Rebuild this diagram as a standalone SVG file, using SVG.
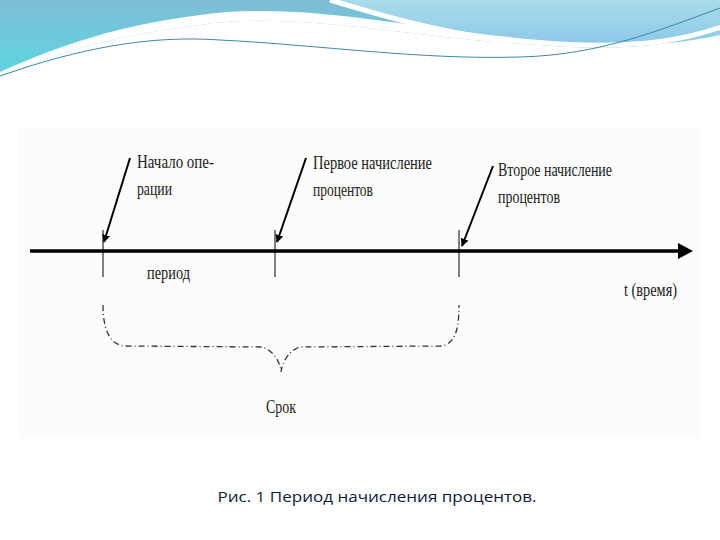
<svg xmlns="http://www.w3.org/2000/svg" width="720" height="540" viewBox="0 0 720 540">
<defs>
<linearGradient id="bg" x1="0" y1="0" x2="0" y2="1"><stop offset="0" stop-color="#7fbdd6"/><stop offset="1" stop-color="#5ad6e0"/></linearGradient>
<linearGradient id="bg2" x1="0" y1="0" x2="0" y2="1"><stop offset="0" stop-color="#a8dcea"/><stop offset="1" stop-color="#8cc8e8"/></linearGradient>
<marker id="ah" viewBox="0 0 10 10" refX="9" refY="5" markerWidth="4" markerHeight="4" orient="auto"><path d="M0,0 L10,5 L0,10 z" fill="#000"/></marker>
<style>
.t{font-family:"Liberation Serif",serif;font-size:19px;fill:#222}
.ptr{stroke:#000;stroke-width:2;fill:none;marker-end:url(#ah)}
.tick{stroke:#000;stroke-width:1}
.cap{font-family:"Open Sans",sans-serif;font-size:15px;fill:#0b1a3a}
</style>
</defs>
<rect width="720" height="540" fill="#fff"/>
<g id="banner">
<path d="M0,0 H720 V30 C660,50 600,50 540,45 C420,40 300,10 200,25 C120,35 60,50 0,78 Z" fill="url(#bg)"/>
<path d="M330,0 H720 V35 C650,50 600,45 510,42 C430,30 380,15 330,0 Z" fill="url(#bg2)"/>
<path d="M0,78 C60,50 120,35 200,25 C300,10 420,40 540,45 C600,50 660,50 720,30 V25 C660,45 600,45 540,40 C420,30 300,0 200,15 C120,25 60,45 0,72 Z" fill="#fff"/>
<path d="M0,76 C80,48 150,35 220,40 C320,45 420,60 520,57 C600,55 660,30 720,8" fill="none" stroke="#3a8aa8" stroke-width="1"/>
<path d="M330,0 C380,15 430,30 510,42" fill="none" stroke="#fff" stroke-width="5"/>
</g>
<rect x="18" y="128" width="682" height="310" fill="#fcfcfc"/>
<g id="connectors">
<line x1="30" y1="251" x2="683" y2="251" stroke="#000" stroke-width="3.5"/>
<path d="M678,243 L693,251 L678,259 Z" fill="#000"/>
<line class="tick" x1="103" y1="230" x2="103" y2="277"/>
<line class="tick" x1="275" y1="230" x2="275" y2="277"/>
<line class="tick" x1="459" y1="230" x2="459" y2="277"/>
<line class="ptr" x1="130" y1="158" x2="104" y2="242"/>
<line class="ptr" x1="306" y1="158" x2="277" y2="242"/>
<line class="ptr" x1="493" y1="166" x2="462" y2="246"/>
<path d="M103,305 C103,330 110,345 125,346 L262,347 C272,350 280,360 281,372 C283,360 290,350 300,347 L440,346 C455,345 459,330 459,305" fill="none" stroke="#333" stroke-width="1.3" stroke-dasharray="6,3,1,3"/>
</g>
<g id="n1"><text class="t" x="137" y="168" textLength="77" lengthAdjust="spacingAndGlyphs">Начало опе-</text><text class="t" x="137" y="195" textLength="35" lengthAdjust="spacingAndGlyphs">рации</text></g>
<g id="n2"><text class="t" x="313" y="169" textLength="119" lengthAdjust="spacingAndGlyphs">Первое начисление</text><text class="t" x="313" y="196" textLength="60" lengthAdjust="spacingAndGlyphs">процентов</text></g>
<g id="n3"><text class="t" x="498" y="176" textLength="114" lengthAdjust="spacingAndGlyphs">Второе начисление</text><text class="t" x="498" y="203" textLength="62" lengthAdjust="spacingAndGlyphs">процентов</text></g>
<g id="period"><text class="t" x="147" y="279" textLength="43" lengthAdjust="spacingAndGlyphs">период</text></g>
<g id="time"><text class="t" x="624" y="296" textLength="53" lengthAdjust="spacingAndGlyphs">t (время)</text></g>
<g id="srok"><text class="t" x="266" y="413" textLength="30" lengthAdjust="spacingAndGlyphs">Срок</text></g>
<g id="caption"><text class="cap" x="377" y="502" text-anchor="middle" textLength="319" lengthAdjust="spacingAndGlyphs">Рис. 1 Период начисления процентов.</text></g>
</svg>
